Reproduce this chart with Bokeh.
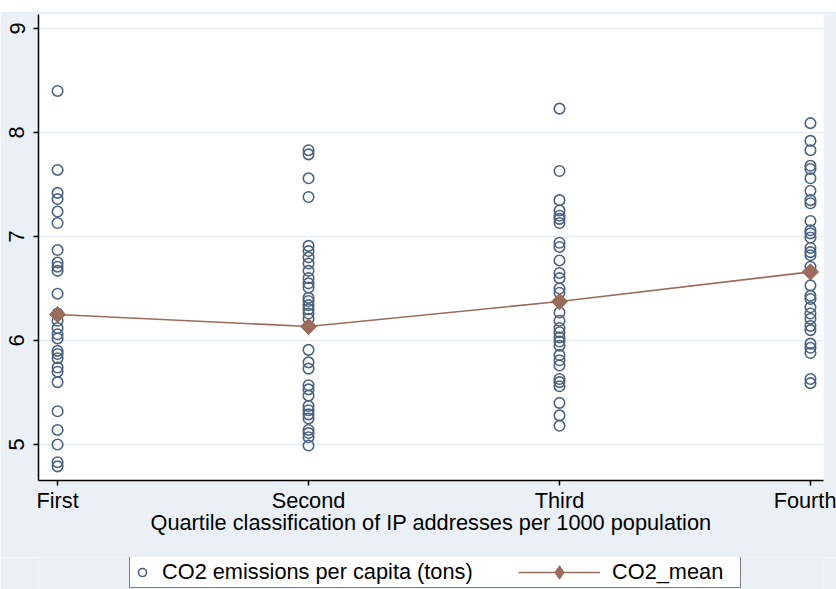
from bokeh.plotting import figure
from bokeh.layouts import column
from bokeh.models import (Range1d, FixedTicker, Legend, LegendItem, ColumnDataSource, Spacer)
from bokeh.embed import file_html
from bokeh.resources import INLINE

# ---------------- data ----------------
categories = ["First", "Second", "Third", "Fourth"]

co2_first = [8.40, 7.64, 7.42, 7.36, 7.24, 7.13, 6.87, 6.75, 6.71, 6.67, 6.45,
             6.26, 6.19, 6.12, 6.06, 6.02, 5.90, 5.87, 5.83, 5.74, 5.70, 5.60,
             5.32, 5.14, 5.00, 4.83, 4.79]
co2_second = [7.83, 7.79, 7.56, 7.38, 6.91, 6.86, 6.80, 6.74, 6.67, 6.60, 6.55,
              6.51, 6.41, 6.38, 6.34, 6.30, 6.26, 6.21, 5.91, 5.79, 5.73, 5.57,
              5.53, 5.47, 5.37, 5.33, 5.29, 5.25, 5.14, 5.11, 5.07, 4.99]
co2_third = [8.23, 7.63, 7.35, 7.25, 7.20, 7.17, 7.13, 6.94, 6.90, 6.77, 6.65,
             6.60, 6.50, 6.46, 6.27, 6.19, 6.12, 6.08, 6.03, 5.99, 5.95, 5.86,
             5.81, 5.76, 5.63, 5.60, 5.56, 5.40, 5.28, 5.18]
co2_fourth = [8.09, 7.92, 7.83, 7.68, 7.65, 7.56, 7.44, 7.35, 7.32, 7.15, 7.06,
              7.03, 6.99, 6.89, 6.85, 6.82, 6.71, 6.53, 6.43, 6.40, 6.32, 6.26,
              6.21, 6.14, 6.10, 5.97, 5.93, 5.88, 5.63, 5.59]
co2_mean = [6.25, 6.135, 6.375, 6.66]

y_ticks = [5, 6, 7, 8, 9]

series_label = "CO2 emissions per capita (tons)"
mean_label = "CO2_mean"
x_title = "Quartile classification of IP addresses per 1000 population"

# ---------------- build ----------------
groups = [co2_first, co2_second, co2_third, co2_fourth]
pts_x, pts_y = [], []
for i, vals in enumerate(groups):
    for v in vals:
        pts_x.append(i + 1)
        pts_y.append(v)
pts = ColumnDataSource(dict(x=pts_x, y=pts_y))
mean_src = ColumnDataSource(dict(x=list(range(1, len(categories) + 1)), y=co2_mean))

FONT = "Liberation Sans"
FS = "21.75px"
BG = "#eaf0f5"
NAVY = "#4a6382"
MEAN_C = "#9b6b5c"

W = 836
TOP_GAP = 11
H_MAIN = 546
H_LEG = 32

p = figure(width=W, height=H_MAIN, output_backend="svg", toolbar_location=None,
           x_range=Range1d(0.924, 4.052), y_range=Range1d(4.654, 9.135),
           min_border_left=38, min_border_top=3, min_border_right=13,
           min_border_bottom=77)

p.border_fill_color = BG
p.background_fill_color = "white"
p.outline_line_color = None

marker_style = dict(marker="circle", size=10.5, fill_color=None,
                    line_color=NAVY, line_width=1.6)
mean_line_style = dict(line_color=MEAN_C, line_width=1.6)

p.scatter("x", "y", source=pts, **marker_style)
p.line("x", "y", source=mean_src, **mean_line_style)
p.scatter("x", "y", source=mean_src, marker="square", angle=0.785398, size=11.5,
          fill_color=MEAN_C, line_color=MEAN_C)

# axes
xa = p.xaxis[0]
xa.ticker = FixedTicker(ticks=[1, 2, 3, 4])
xa.major_label_overrides = {i + 1: c for i, c in enumerate(categories)}
xa.axis_label = x_title
ya = p.yaxis[0]
ya.ticker = FixedTicker(ticks=y_ticks)
ya.major_label_orientation = "vertical"

for ax in (xa, ya):
    ax.axis_line_color = "black"
    ax.axis_line_width = 1.5
    ax.major_tick_line_color = "black"
    ax.major_tick_line_width = 1.5
    ax.major_tick_in = 0
    ax.major_tick_out = 5
    ax.minor_tick_line_color = None
    ax.major_label_text_font = FONT
    ax.major_label_text_font_size = FS
    ax.major_label_text_color = "black"
    ax.axis_label_text_font = FONT
    ax.axis_label_text_font_size = FS
    ax.axis_label_text_font_style = "normal"
    ax.axis_label_text_color = "black"

xa.major_label_standoff = 2
xa.axis_label_standoff = -6
ya.major_label_standoff = 9

p.xgrid.grid_line_color = None
p.ygrid.grid_line_color = "#e6ecf1"
p.ygrid.grid_line_width = 1.5

# ---------------- legend strip ----------------
# same data, drawn out of this strip's visible range; only the legend keys show
pl = figure(width=W, height=H_LEG, output_backend="svg", toolbar_location=None,
            x_range=Range1d(0, 1), y_range=Range1d(0, 1),
            x_axis_type=None, y_axis_type=None,
            min_border_left=0, min_border_right=0,
            min_border_top=0, min_border_bottom=0)
pl.border_fill_color = BG
pl.background_fill_color = BG
pl.outline_line_color = None

sc_k = pl.scatter("x", "y", source=pts, **marker_style)
ln_k = pl.line("x", "y", source=mean_src, **mean_line_style)
dm_k = pl.scatter("x", "y", source=mean_src, marker="diamond",
                  fill_color=MEAN_C, line_color=MEAN_C)

leg_a = Legend(items=[LegendItem(label=series_label, renderers=[sc_k], index=0)],
               location=(91, 1), orientation="horizontal",
               padding=2, margin=0, spacing=0,
               glyph_width=20, glyph_height=26, label_standoff=10,
               label_width=576,
               label_text_font=FONT, label_text_font_size=FS,
               label_text_color="black",
               border_line_color="black", border_line_width=1,
               background_fill_color="white", background_fill_alpha=1)
leg_b = Legend(items=[LegendItem(label=mean_label, renderers=[ln_k, dm_k], index=0)],
               location=(480, 0), orientation="horizontal",
               padding=0, margin=0, spacing=0,
               glyph_width=82, glyph_height=34, label_standoff=12,
               label_text_font=FONT, label_text_font_size=FS,
               label_text_color="black",
               border_line_color=None, background_fill_alpha=0)
pl.add_layout(leg_a)
pl.add_layout(leg_b)

layout = column(Spacer(width=W, height=TOP_GAP), p, pl, spacing=0)
open("out.html", "w").write(file_html(layout, INLINE))
